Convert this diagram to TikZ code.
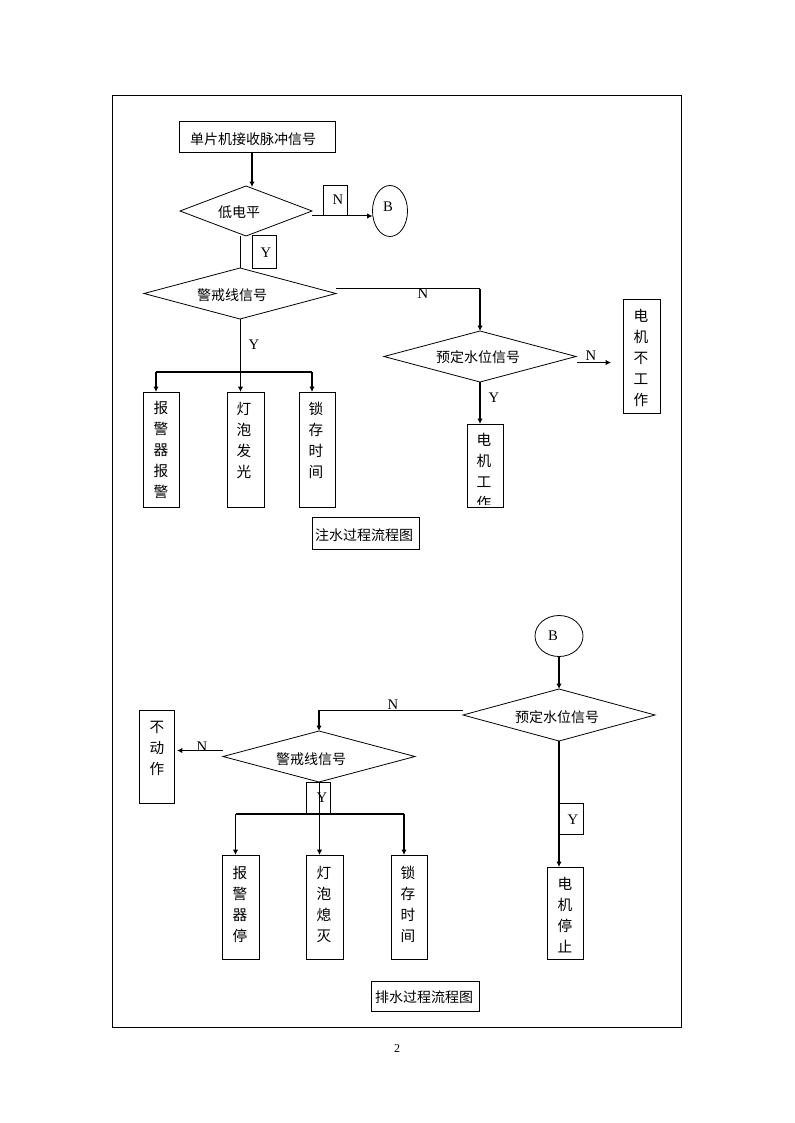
\documentclass[tikz,border=0pt]{standalone}
\usepackage{fontspec}
\setmainfont{Liberation Serif}
\newfontfamily\cjk{Noto Sans CJK SC}
\usetikzlibrary{shapes.geometric,arrows.meta,calc}
\newcommand\rbox[5]{\node[boxst,minimum width={(#4-#2)*0.75pt},minimum height={(#5-#3)*0.75pt}] (#1) at ({(#2+#4)/2},{(#3+#5)/2}) {};}
\newcommand\rdia[5]{\node[dia,minimum width={(#4-#2)*0.75pt},minimum height={(#5-#3)*0.75pt}] (#1) at ({(#2+#4)/2},{(#3+#5)/2}) {};}
\begin{document}
\begin{tikzpicture}[x=0.75pt,y=-0.75pt,
  boxst/.style={draw,line width=0.75pt,inner sep=0pt,outer sep=0pt,rectangle},
  dia/.style={draw,diamond,line width=0.6pt,inner sep=0pt,outer sep=0pt},
  ell/.style={draw,ellipse,line width=0.6pt,inner sep=0pt,outer sep=0pt},
  cjktxt/.style={font=\cjk\fontsize{10.5}{15.75}\selectfont,inner sep=0pt,align=center},
  vtxt/.style={font=\cjk\fontsize{11}{15.75}\selectfont,inner sep=0pt,align=center},
  lat/.style={font=\fontsize{11}{12}\selectfont,inner sep=0pt},
  thinln/.style={line width=0.75pt},
  thickln/.style={line width=1.4pt},
  arr/.style={-{Latex[length=4pt,width=4pt]}},
]
\useasboundingbox (0,0) rectangle (794,1123);
% frame
\rbox{frame}{112}{96}{681}{1027}
% ---------- top chart ----------
\rbox{start}{179}{122}{335}{153}
\rdia{ld}{180}{186}{312}{236}
\node[ell,minimum width=35*0.75pt,minimum height=51*0.75pt] (B1) at (390,211) {};
\rbox{nb1}{323}{186}{347}{216}
\rbox{yb1}{252}{236}{276}{268}
\rdia{wj}{144}{268}{336}{319}
\rdia{yd1}{384}{331}{576}{382}
\rbox{mbg}{623}{299}{660}{413}
\rbox{mg}{467}{424}{503}{507}
\rbox{b1}{143}{392}{179}{507}
\rbox{b2}{227}{392}{264}{507}
\rbox{b3}{299}{392}{335}{507}
\rbox{zs}{312}{517}{419}{549}

\node[cjktxt] (t0) at (253,139) {单片机接收脉冲信号};
\node[cjktxt] (tld) at (239,212) {低电平};
\node[lat] (tB1) at (388,207) {B};
\node[lat] (tn1) at (338,200) {N};
\node[lat] (ty1) at (266,253) {Y};
\node[cjktxt] (twj) at (232,295) {警戒线信号};
\node[lat] (tn2) at (423,294) {N};
\node[cjktxt] (tyd1) at (478,357) {预定水位信号};
\node[lat] (tn3) at (591,356) {N};
\node[vtxt] (tmbg) at (641,358) {电\\机\\不\\工\\作};
\node[lat] (ty2) at (494,398) {Y};
\begin{scope}
\clip (467,424) rectangle (503,504);
\node[vtxt] (tmg) at (484,471.5) {电\\机\\工\\作};
\end{scope}
\node[lat] (ty3) at (254,345) {Y};
\node[vtxt] (tb1) at (161,450) {报\\警\\器\\报\\警};
\node[vtxt] (tb2) at (244,440) {灯\\泡\\发\\光};
\node[vtxt] (tb3) at (316,440) {锁\\存\\时\\间};
\node[cjktxt] (tzs) at (364,535) {注水过程流程图};

% top connectors
\draw[thickln,arr] ($(start.south)+(-5,0)$) -- ($(start.south |- ld.north)+(-5,1)$);
\draw[thinln,arr] ($(ld.east)+(0,5)$) -- ($(ld.east -| B1.west)+(0,5)$);
\draw[thinln] (ld.south -| wj.north) -- (wj.north);
\coordinate (jn1) at ($(wj.east -| yd1.north)+(0,-5)$);
\draw[thinln] ($(wj.east)+(0,-5)$) -- (jn1);
\draw[thickln,arr] (jn1) -- (yd1.north);
\coordinate (tip1) at ($(yd1.east)+(35,6)$);
\draw[thickln,arr] ($(yd1.east)+(1,6)$) -- (tip1);
\draw[thickln,arr] (yd1.south) -- (yd1.south |- mg.north);
\coordinate (jn2) at ($(wj.south)+(0,53)$);
\draw[thinln] (wj.south) -- (jn2);
\coordinate (ja) at ($(b1.north |- jn2)+(-5,0)$);
\coordinate (jc) at ($(b3.north |- jn2)+(-5,0)$);
\draw[thickln] (ja) -- (jc);
\draw[thickln,arr] (ja) -- ($(b1.north)+(-5,0)$);
\draw[thickln,arr] ($(b2.north |- jn2)+(-5,0)$) -- ($(b2.north)+(-5,0)$);
\draw[thickln,arr] (jc) -- ($(b3.north)+(-5,0)$);

% ---------- bottom chart ----------
\node[ell,minimum width=48*0.75pt,minimum height=41*0.75pt] (B2) at (559,636) {};
\rdia{yd2}{463}{689}{655}{741}
\rdia{wj2}{223}{731}{415}{782}
\rbox{bd}{139}{710}{174}{803}
\rbox{yb2}{306}{782}{330}{814}
\rbox{c1}{222}{855}{259}{959}
\rbox{c2}{306}{855}{343}{959}
\rbox{c3}{391}{855}{427}{959}
\rbox{ps}{371}{981}{479}{1011}
\rbox{yb3}{559}{803}{583}{834}
\rbox{ms}{547}{867}{583}{959}

\node[lat] (tB2) at (553,636) {B};
\node[cjktxt] (tyd2) at (557,717) {预定水位信号};
\node[lat] (tn4) at (393,705) {N};
\node[cjktxt] (twj2) at (311,759) {警戒线信号};
\node[lat] (tn5) at (202,747) {N};
\node[vtxt] (tbd) at (157,748) {不\\动\\作};
\node[lat] (ty4) at (322,798) {Y};
\node[vtxt] (tc1) at (240,904.5) {报\\警\\器\\停};
\node[vtxt] (tc2) at (324,904.5) {灯\\泡\\熄\\灭};
\node[vtxt] (tc3) at (408,904.5) {锁\\存\\时\\间};
\node[cjktxt] (tps) at (424,997) {排水过程流程图};
\node[lat] (ty5) at (573,820) {Y};
\node[vtxt] (tms) at (565,915) {电\\机\\停\\止};

% bottom connectors
\draw[thickln,arr] (B2.south) -- (yd2.north);
\coordinate (jn3) at ($(yd2.west -| wj2.north)+(0,-5)$);
\draw[thinln] ($(yd2.west)+(0,-5)$) -- (jn3);
\draw[thickln,arr] (jn3) -- (wj2.north);
\draw[thinln,arr] ($(wj2.west)+(0,-6)$) -- ($(wj2.west -| bd.east)+(3,-6)$);
\coordinate (jn4) at ($(wj2.south)+(0,32)$);
\draw[thinln] (wj2.south) -- (jn4);
\coordinate (jd) at ($(c1.north |- jn4)+(-5,0)$);
\coordinate (jf) at ($(c3.north |- jn4)+(-5,0)$);
\draw[thickln] (jd) -- (jf);
\draw[thickln,arr] (jd) -- ($(c1.north)+(-5,0)$);
\draw[thickln,arr] ($(c2.north |- jn4)+(-5,0)$) -- ($(c2.north)+(-5,0)$);
\draw[thickln,arr] (jf) -- ($(c3.north)+(-5,0)$);
\draw[thickln,arr] (yd2.south) -- (yd2.south |- ms.north);

\node[font=\fontsize{9}{10}\selectfont,inner sep=0pt] (pg) at (397,1049) {2};
\end{tikzpicture}
\end{document}
